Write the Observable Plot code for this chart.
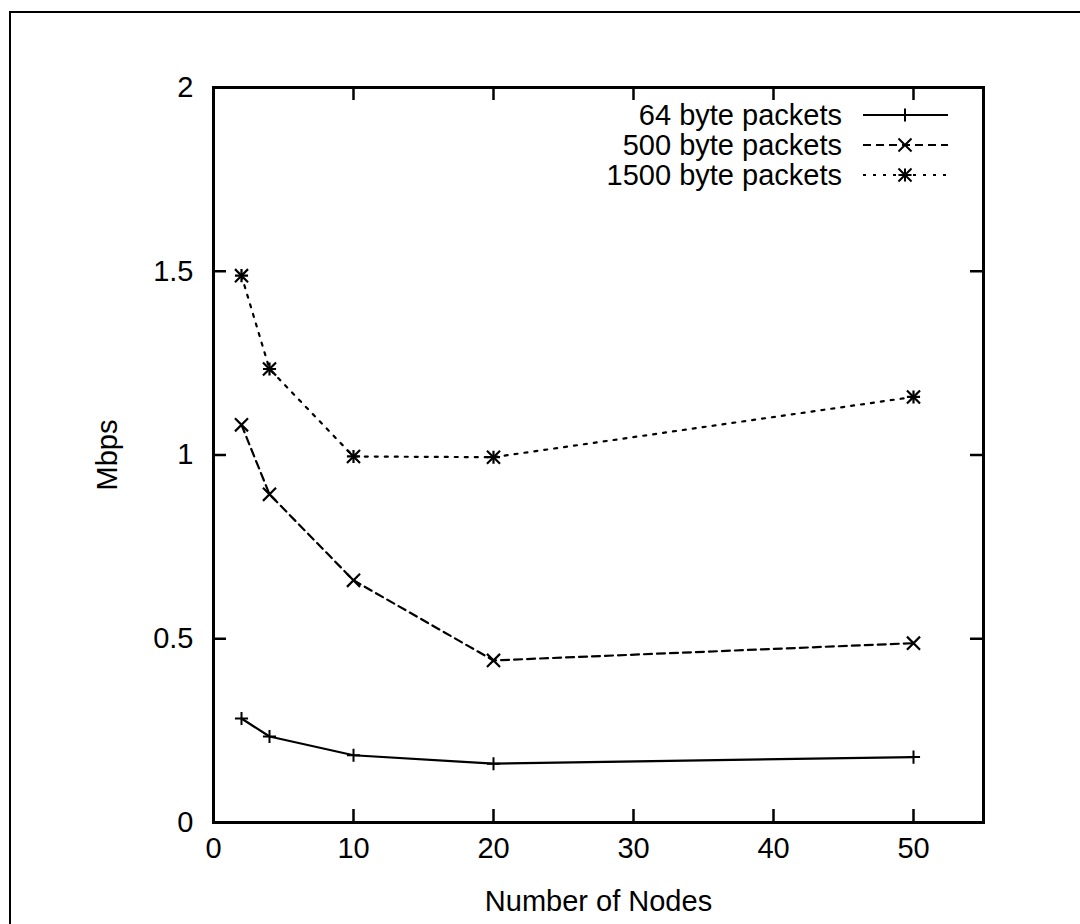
<!DOCTYPE html>
<html><head><meta charset="utf-8">
<script src="https://cdn.jsdelivr.net/npm/d3@7"></script>
<script src="https://cdn.jsdelivr.net/npm/@observablehq/plot@0.6"></script>
<style>
body{margin:0;background:#fff;}
#wrap{position:relative;width:1080px;height:924px;overflow:hidden;background:#fff;}
#chart{position:absolute;left:0;top:0;}
#border{position:absolute;left:9px;top:11px;width:1100px;height:1000px;border-top:2px solid #000;border-left:2px solid #000;pointer-events:none;}
</style></head><body>
<div id="wrap"><div id="chart"></div><div id="border"></div></div>
<script>
// Data
const nodes = [2, 4, 10, 20, 50];
const mbps64 = [0.283, 0.234, 0.183, 0.160, 0.178];
const mbps500 = [1.082, 0.893, 0.659, 0.441, 0.488];
const mbps1500 = [1.488, 1.234, 0.996, 0.994, 1.158];
const seriesNames = ["64 byte packets", "500 byte packets", "1500 byte packets"];
const xTicks = [0, 10, 20, 30, 40, 50];
const yTicks = [0, 0.5, 1, 1.5, 2];
const xLabel = "Number of Nodes";
const yLabel = "Mbps";

const rows = (vals) => nodes.map((n, i) => ({nodes: n, mbps: vals[i]}));
const r64 = rows(mbps64), r500 = rows(mbps500), r1500 = rows(mbps1500);

const W = 1080, H = 924, ML = 213, MR = 97, MT = 87, MB = 102;
const plotH = H - MT - MB, plotW = W - ML - MR, T = 13;
const fmt = d => String(d);
const font = "'Liberation Sans', Arial, Helvetica, sans-serif";

const dash500 = "8,5", dash1500 = "3,7";
const rPlus = 4.3, rTimes = 6;

const chart = Plot.plot({
  width: W, height: H,
  marginLeft: ML, marginRight: MR, marginTop: MT, marginBottom: MB,
  style: {fontFamily: font, fontSize: "29px", color: "#000", background: "transparent"},
  x: {domain: [0, 55]},
  y: {domain: [0, 2]},
  marks: [
    Plot.axisX(xTicks, {anchor: "bottom", tickSize: 0, tickPadding: 15, tickFormat: fmt,
      label: xLabel, labelAnchor: "center", labelOffset: 88, labelArrow: "none", fill: "#000"}),
    Plot.axisY(yTicks, {anchor: "left", tickSize: 0, tickPadding: 20, tickFormat: fmt,
      label: yLabel, labelAnchor: "center", labelOffset: 117, labelArrow: "none", fill: "#000"}),
    Plot.ruleX(xTicks, {x: d => d, insetTop: plotH - T, stroke: "#000", strokeWidth: 2.5}),
    Plot.ruleX(xTicks, {x: d => d, insetBottom: plotH - T, stroke: "#000", strokeWidth: 2.5}),
    Plot.ruleY(yTicks, {y: d => d, insetRight: plotW - T, stroke: "#000", strokeWidth: 2.5}),
    Plot.ruleY(yTicks, {y: d => d, insetLeft: plotW - T, stroke: "#000", strokeWidth: 2.5}),
    Plot.line(r64, {x: "nodes", y: "mbps", stroke: "#000", strokeWidth: 2.2}),
    Plot.line(r500, {x: "nodes", y: "mbps", stroke: "#000", strokeWidth: 2.2, strokeDasharray: dash500}),
    Plot.line(r1500, {x: "nodes", y: "mbps", stroke: "#000", strokeWidth: 2.2, strokeDasharray: dash1500}),
    Plot.dot(r64, {x: "nodes", y: "mbps", symbol: "plus", r: rPlus, stroke: "#000", strokeWidth: 2}),
    Plot.dot(r500, {x: "nodes", y: "mbps", symbol: "times", r: rTimes, stroke: "#000", strokeWidth: 2.2}),
    Plot.dot(r1500, {x: "nodes", y: "mbps", symbol: "plus", r: rPlus, stroke: "#000", strokeWidth: 2.2}),
    Plot.dot(r1500, {x: "nodes", y: "mbps", symbol: "times", r: rTimes, stroke: "#000", strokeWidth: 2.2}),
    Plot.frame({stroke: "#000", strokeWidth: 3})
  ]
});
document.getElementById("chart").appendChild(chart);

// Legend (inside plot, top-right, gnuplot style)
const svg = d3.select(chart);
const leg = svg.append("g").attr("font-family", font).attr("font-size", 29);
const legendRows = [
  {name: seriesNames[0], dash: null, syms: [[d3.symbolPlus, rPlus]]},
  {name: seriesNames[1], dash: dash500, syms: [[d3.symbolTimes, rTimes]]},
  {name: seriesNames[2], dash: dash1500, syms: [[d3.symbolPlus, rPlus], [d3.symbolTimes, rTimes]]}
];
const textRight = 842, lineX1 = 863, lineX2 = 948, symX = 905, row0 = 115, rowStep = 30;
legendRows.forEach((d, i) => {
  const y = row0 + i * rowStep;
  leg.append("text").attr("x", textRight).attr("y", y).attr("dy", "0.35em")
    .attr("text-anchor", "end").attr("fill", "#000").text(d.name);
  leg.append("line").attr("x1", lineX1).attr("x2", lineX2).attr("y1", y).attr("y2", y)
    .attr("stroke", "#000").attr("stroke-width", 2)
    .attr("stroke-dasharray", d.dash);
  d.syms.forEach(([type, r]) => {
    leg.append("path").attr("transform", `translate(${symX},${y})`)
      .attr("d", d3.symbol(type, Math.PI * r * r)())
      .attr("fill", "none").attr("stroke", "#000").attr("stroke-width", 2);
  });
});
</script>
</body></html>
